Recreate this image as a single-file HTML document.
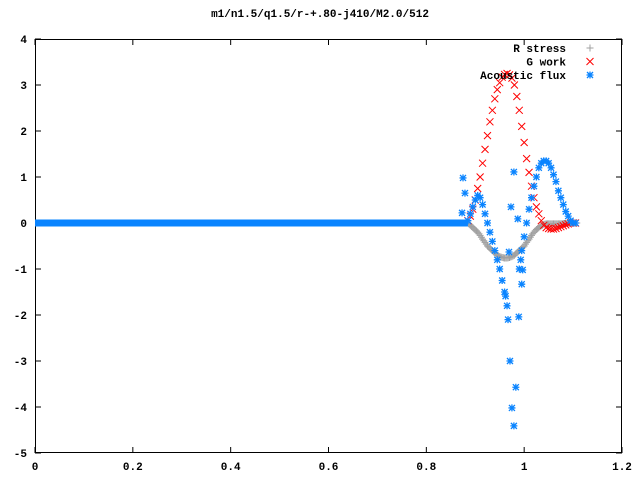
<!DOCTYPE html>
<html><head><meta charset="utf-8"><style>
html,body{margin:0;padding:0;background:#fff;}
svg{display:block;}
text{font-family:"Liberation Mono","DejaVu Sans Mono",monospace;font-size:11px;font-weight:bold;fill:#000;}
</style></head><body>
<svg id="chart" width="640" height="480" xmlns="http://www.w3.org/2000/svg">
<text x="320" y="17" text-anchor="middle">m1/n1.5/q1.5/r-+.80-j410/M2.0/512</text>
<g id="axes"></g>
<g id="marks"></g>
<g id="legend"></g>
</svg>
<script>
const xTicks=[0,0.2,0.4,0.6,0.8,1,1.2];
const xTickLabels=["0","0.2","0.4","0.6","0.8","1","1.2"];
const yTicks=[-5,-4,-3,-2,-1,0,1,2,3,4];
const xs=[0.885,0.89,0.895,0.9,0.905,0.91,0.915,0.92,0.925,0.93,0.935,0.94,0.945,0.95,0.955,0.96,0.965,0.97,0.975,0.98,0.985,0.99,0.995,1.0,1.005,1.01,1.015,1.02,1.025,1.03,1.035,1.04,1.045,1.05,1.055,1.06,1.065,1.07,1.075,1.08,1.085,1.09,1.095,1.1,1.105];
const gWork=[0.05,0.15,0.3,0.5,0.75,1.0,1.3,1.6,1.9,2.2,2.45,2.7,2.9,3.05,3.17,3.23,3.25,3.22,3.15,3.0,2.75,2.45,2.1,1.75,1.4,1.1,0.8,0.55,0.35,0.2,0.05,-0.05,-0.1,-0.12,-0.13,-0.13,-0.12,-0.1,-0.08,-0.06,-0.04,-0.02,0,0,0];
const rStress=[0,-0.05,-0.1,-0.15,-0.2,-0.27,-0.35,-0.42,-0.5,-0.55,-0.6,-0.65,-0.7,-0.73,-0.75,-0.76,-0.76,-0.75,-0.73,-0.7,-0.65,-0.6,-0.55,-0.5,-0.42,-0.35,-0.27,-0.2,-0.14,-0.1,-0.06,-0.03,-0.02,-0.02,-0.02,-0.02,-0.02,-0.02,-0.02,-0.01,-0.01,0,0,0,0];
const flux=[0.05,0.2,0.35,0.5,0.6,0.55,0.4,0.2,0,-0.2,-0.4,-0.6,-0.8,-1.0,-1.25,-1.5,-1.8,null,null,null,null,-1.0,-0.6,-0.3,0,0.3,0.55,0.8,1.0,1.2,1.3,1.35,1.35,1.3,1.2,1.05,0.9,0.7,0.55,0.4,0.25,0.15,0.05,0,0];
const fluxScatterX=[0.875,0.879,0.873,0.973,0.987,0.969,0.993,0.997,0.995,0.962,0.967,0.989,0.971,0.983,0.975,0.979,0.979];
const fluxScatterY=[0.98,0.65,0.22,0.35,0.09,-0.63,-0.8,-1.02,-1.33,-1.59,-2.1,-2.04,-3.0,-3.57,-4.02,-4.41,1.11];
const fluxFlatEnd=0.885;

const L=35,R=622,T=39,B=453;
const sx=v=>L+(v-0)/1.2*(R-L);
const sy=v=>T+(4-v)/9*(B-T);
const NS="http://www.w3.org/2000/svg";
function mk(tag,attrs,parent){const e=document.createElementNS(NS,tag);for(const k in attrs)e.setAttribute(k,attrs[k]);parent.appendChild(e);return e;}
const axes=document.getElementById('axes'),marks=document.getElementById('marks'),legend=document.getElementById('legend');
xTicks.forEach((t,i)=>{const x=sx(t);
 const a=mk('line',{x1:x,y1:B,x2:x,y2:B-6,stroke:'#000'},axes);
 mk('line',{x1:x,y1:T,x2:x,y2:T+6,stroke:'#000'},axes);
 const tx=mk('text',{x:x,y:B+17,'text-anchor':'middle'},axes);tx.textContent=xTickLabels[i];
 });
yTicks.forEach(t=>{const y=sy(t);
 const a=mk('line',{x1:L,y1:y,x2:L+6,y2:y,stroke:'#000'},axes);
 mk('line',{x1:R,y1:y,x2:R-6,y2:y,stroke:'#000'},axes);
 const tx=mk('text',{x:L-8,y:y+4,'text-anchor':'end'},axes);tx.textContent=String(t);
 });
const fr=mk('rect',{x:L+0.5,y:T+0.5,width:R-L-1,height:B-T-1,fill:'none',stroke:'#000'},axes);


function plus(x,y,c,p){mk('path',{d:`M${x-3.5} ${y}h7M${x} ${y-3.5}v7`,stroke:c,fill:'none'},p);}
function cross(x,y,c,p){mk('path',{d:`M${x-3.5} ${y-3.5}l7 7M${x-3.5} ${y+3.5}l7 -7`,stroke:c,fill:'none'},p);}
function star(x,y,c,p){mk('path',{d:`M${x-3.5} ${y}h7M${x} ${y-3.5}v7M${x-3} ${y-3}l6 6M${x-3} ${y+3}l6 -6`,stroke:c,fill:'none','stroke-width':1.3},p);}
const RC='#a0a0a0',GC='#ff0000',FC='#0a84ff';
const gR=mk('g',{},marks);
const gG=mk('g',{},marks);
const gF=mk('g',{},marks);
const flat=mk('rect',{x:sx(0),y:sy(0)-3.5,width:sx(fluxFlatEnd)-sx(0),height:7,fill:FC},gF);

xs.forEach((x,i)=>{plus(sx(x),sy(rStress[i]),RC,gR);plus(sx(x+0.0025),sy((rStress[i]+(rStress[i+1]??rStress[i]))/2),RC,gR);});
xs.forEach((x,i)=>{cross(sx(x),sy(gWork[i]),GC,gG);});
xs.forEach((x,i)=>{if(flux[i]!==null)star(sx(x),sy(flux[i]),FC,gF);});
fluxScatterX.forEach((x,i)=>star(sx(x),sy(fluxScatterY[i]),FC,gF));

const items=[["R stress",RC,plus],["G work",GC,cross],["Acoustic flux",FC,star]];
items.forEach((it,i)=>{const y=48+i*13.5;
 const g=mk('g',{},legend);
 const t=mk('text',{x:566,y:y+4,'text-anchor':'end'},g);t.textContent=it[0];
 it[2](590,y,it[1],g);});
</script>
</body></html>
